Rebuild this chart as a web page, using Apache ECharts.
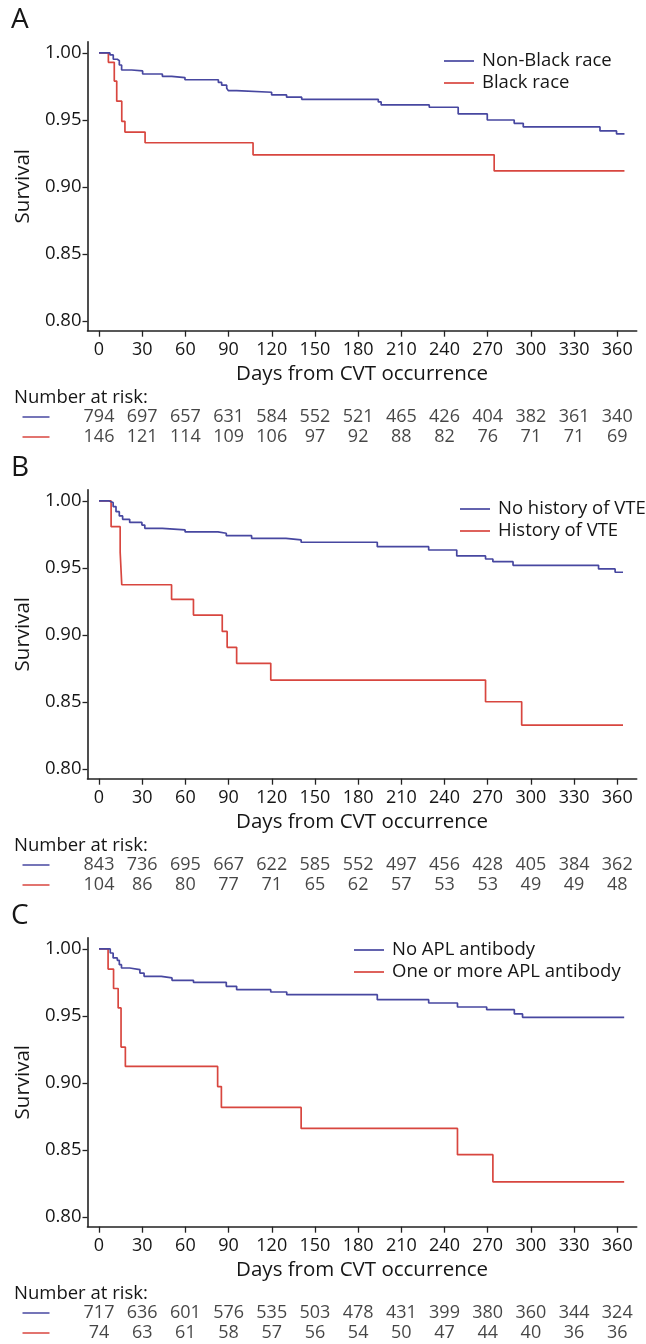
<!DOCTYPE html>
<html>
<head>
<meta charset="utf-8">
<script src="https://cdn.jsdelivr.net/npm/echarts@6/dist/echarts.min.js"></script>
<style>
html,body{margin:0;padding:0;background:#fff;}
#chart{width:646px;height:1344px;}
</style>
</head>
<body>
<div id="chart"></div>
<script>
// ---------- data ----------
const xTicks = [0, 30, 60, 90, 120, 150, 180, 210, 240, 270, 300, 330, 360];
const yTicks = [0.80, 0.85, 0.90, 0.95, 1.00];
const panelLetters = ['A', 'B', 'C'];
const xAxisTitle = 'Days from CVT occurrence';
const yAxisTitle = 'Survival';
const riskTitle = 'Number at risk:';

// Panel A
const namesA = ['Non-Black race', 'Black race'];
const daysA1 = [0, 7.6, 9.9, 12.7, 14.1, 15.7, 22.7, 30.3, 44, 50.5, 59.7, 82.9, 85.2, 88.7, 89.8, 95.6, 119.9, 130.3, 140.8, 194, 196, 229.4, 249.5, 269.7, 288.4, 294.7, 348, 359.5, 365];
const survA1 = [1, 0.9985, 0.9953, 0.9943, 0.991, 0.9873, 0.9866, 0.9843, 0.9826, 0.9816, 0.980, 0.978, 0.976, 0.9736, 0.9719, 0.9707, 0.9687, 0.967, 0.9654, 0.9635, 0.9612, 0.9595, 0.9545, 0.950, 0.9475, 0.9448, 0.9418, 0.9396, 0.9396];
const daysA2 = [0, 6.5, 10.6, 12.3, 15.8, 18, 32, 107, 274.5, 365];
const survA2 = [1, 0.993, 0.979, 0.964, 0.949, 0.941, 0.933, 0.924, 0.912, 0.912];
const riskA1 = [794, 697, 657, 631, 584, 552, 521, 465, 426, 404, 382, 361, 340];
const riskA2 = [146, 121, 114, 109, 106, 97, 92, 88, 82, 76, 71, 71, 69];

// Panel B
const namesB = ['No history of VTE', 'History of VTE'];
const daysB1 = [0, 7, 9.8, 11.8, 14.1, 16.4, 21.3, 29.8, 31.8, 44, 59.8, 82.6, 88.4, 106, 129.9, 140.4, 193.3, 229, 248.5, 268.5, 273.6, 287.6, 347, 358.5, 364];
const survB1 = [1, 0.9988, 0.9958, 0.992, 0.9888, 0.9863, 0.984, 0.982, 0.9796, 0.9784, 0.9769, 0.9759, 0.9741, 0.9721, 0.9709, 0.9692, 0.9659, 0.9634, 0.959, 0.9567, 0.9547, 0.952, 0.9493, 0.9468, 0.9468];
const daysB2 = [0, 8.4, 14.7, 15.8, 50.4, 65.6, 85.6, 89, 95.6, 119.3, 268.5, 293.6, 364];
const survB2 = [1, 0.9808, 0.9615, 0.9375, 0.9266, 0.9149, 0.9027, 0.8908, 0.8789, 0.8664, 0.8502, 0.8328, 0.8328];
const riskB1 = [843, 736, 695, 667, 622, 585, 552, 497, 456, 428, 405, 384, 362];
const riskB2 = [104, 86, 80, 77, 71, 65, 62, 57, 53, 53, 49, 49, 48];

// Panel C
const namesC = ['No APL antibody', 'One or more APL antibody'];
const daysC1 = [0, 7.8, 9.8, 12.7, 14.1, 15.6, 21.3, 28.4, 31.3, 43.3, 50.7, 65.6, 88.4, 95.6, 119.3, 130.4, 193.3, 229, 249, 269.3, 288.5, 294.2, 364.8];
const survC1 = [1, 0.997, 0.9933, 0.9915, 0.9883, 0.9858, 0.9846, 0.982, 0.9796, 0.9784, 0.9766, 0.9751, 0.9721, 0.9696, 0.9679, 0.9659, 0.9622, 0.9597, 0.9567, 0.9547, 0.9515, 0.949, 0.949];
const daysC2 = [0, 6.3, 10.1, 13.3, 15.3, 18.3, 82.4, 85, 140.4, 249, 273.6, 364.8];
const survC2 = [1, 0.985, 0.9705, 0.956, 0.9268, 0.9124, 0.8973, 0.8818, 0.8661, 0.8465, 0.8263, 0.8263];
const riskC1 = [717, 636, 601, 576, 535, 503, 478, 431, 399, 380, 360, 344, 324];
const riskC2 = [74, 63, 61, 58, 57, 56, 54, 50, 47, 44, 40, 36, 36];

// ---------- layout / style ----------
const BLUE = '#4747a0';
const RED = '#d8463f';
const TXT = '#161616';
const FONT = 'Open Sans';
const panels = [
  {names: namesA, d1: daysA1, s1: survA1, d2: daysA2, s2: survA2, r1: riskA1, r2: riskA2, legendLeft: 444, legendTop: 50},
  {names: namesB, d1: daysB1, s1: survB1, d2: daysB2, s2: survB2, r1: riskB1, r2: riskB2, legendLeft: 460, legendTop: 498},
  {names: namesC, d1: daysC1, s1: survC1, d2: daysC2, s2: survC2, r1: riskC1, r2: riskC2, legendLeft: 354, legendTop: 939}
];
const STEP = 448;
const GRID_LEFT = 87.5, GRID_RIGHT = 9.3, GRID_TOP = 41.7, GRID_H = 289;
const XMIN = -8, XMAX = 373.5, YMIN = 0.7928, YMAX = 1.0084;

const option = {
  animation: false,
  backgroundColor: '#fff',
  textStyle: {fontFamily: FONT},
  title: [], legend: [], grid: [], xAxis: [], yAxis: [], series: []
};

panels.forEach((p, i) => {
  const off = i * STEP;
  // panel letter
  option.title.push({text: panelLetters[i], left: 11, top: 5 + off,
    textStyle: {fontFamily: FONT, fontSize: 28, fontWeight: 'normal', color: TXT, lineHeight: 30}, padding: 0});
  option.title.push({text: riskTitle, left: 14, top: 387 + off,
    textStyle: {fontFamily: FONT, fontSize: 18.5, fontWeight: 'normal', color: TXT, lineHeight: 22}, padding: 0});

  // main grid
  const g = option.grid.length;
  option.grid.push({left: GRID_LEFT, right: GRID_RIGHT, top: GRID_TOP + off, height: GRID_H, containLabel: false});
  option.xAxis.push({
    type: 'value', gridIndex: g, min: XMIN, max: XMAX,
    axisLine: {show: true, onZero: false, lineStyle: {color: '#222', width: 1.6}},
    axisTick: {show: true, length: 6, customValues: xTicks, lineStyle: {color: '#222', width: 1.3}},
    axisLabel: {customValues: xTicks, margin: 10, fontSize: 18, color: TXT, fontFamily: FONT},
    splitLine: {show: false},
    name: xAxisTitle, nameLocation: 'middle', nameGap: 33,
    nameTextStyle: {fontSize: 20.5, color: TXT, fontFamily: FONT}
  });
  option.yAxis.push({
    type: 'value', gridIndex: g, min: YMIN, max: YMAX,
    axisLine: {show: true, onZero: false, lineStyle: {color: '#222', width: 1.6}},
    axisTick: {show: true, length: 5, customValues: yTicks, lineStyle: {color: '#222', width: 1.3}},
    axisLabel: {customValues: yTicks, margin: 6, fontSize: 18.5, color: TXT, fontFamily: FONT,
      formatter: v => v.toFixed(2)},
    splitLine: {show: false},
    name: yAxisTitle, nameLocation: 'middle', nameGap: 53,
    nameTextStyle: {fontSize: 20.5, color: TXT, fontFamily: FONT}
  });
  const mkData = (d, s) => d.map((x, k) => [x, s[k]]);
  option.series.push({
    name: p.names[0], type: 'line', step: 'end', xAxisIndex: g, yAxisIndex: g,
    data: mkData(p.d1, p.s1), showSymbol: false, symbol: 'none',
    lineStyle: {color: BLUE, width: 1.7}, itemStyle: {color: BLUE}, z: 3
  });
  option.series.push({
    name: p.names[1], type: 'line', step: 'end', xAxisIndex: g, yAxisIndex: g,
    data: mkData(p.d2, p.s2), showSymbol: false, symbol: 'none',
    lineStyle: {color: RED, width: 1.7}, itemStyle: {color: RED}, z: 2
  });
  option.legend.push({
    data: p.names, orient: 'vertical', left: p.legendLeft, top: p.legendTop,
    padding: 0, itemGap: 0, itemWidth: 30, itemHeight: 1.7, icon: 'rect',
    selectedMode: false,
    textStyle: {fontFamily: FONT, fontSize: 18.5, color: TXT, lineHeight: 22, padding: [0, 0, 0, 3]}
  });

  // number at risk grid
  const rg = option.grid.length;
  option.grid.push({left: GRID_LEFT, right: GRID_RIGHT, top: 407 + off, height: 40});
  option.xAxis.push({type: 'value', gridIndex: rg, min: XMIN, max: XMAX, show: false});
  option.yAxis.push({
    type: 'category', gridIndex: rg, data: ['b', 'r'], inverse: true,
    axisLine: {show: false}, axisTick: {show: false}, splitLine: {show: false},
    axisLabel: {margin: 38, formatter: v => '{' + v + '|}',
      rich: {b: {width: 27, height: 1.5, backgroundColor: BLUE}, r: {width: 27, height: 1.5, backgroundColor: RED}}}
  });
  const mkRisk = (arr, row) => xTicks.map((x, k) => [x, row, arr[k]]);
  const riskLabel = {show: true, position: 'inside', formatter: q => String(q.value[2]),
    fontSize: 18, color: TXT, fontFamily: FONT};
  option.series.push({
    name: 'risk-' + i + '-1', type: 'scatter', xAxisIndex: rg, yAxisIndex: rg,
    data: mkRisk(p.r1, 'b'), symbolSize: 1, itemStyle: {color: 'transparent'}, label: riskLabel, silent: true
  });
  option.series.push({
    name: 'risk-' + i + '-2', type: 'scatter', xAxisIndex: rg, yAxisIndex: rg,
    data: mkRisk(p.r2, 'r'), symbolSize: 1, itemStyle: {color: 'transparent'}, label: riskLabel, silent: true
  });
});

const chart = echarts.init(document.getElementById('chart'), null, {renderer: 'canvas'});
chart.setOption(option);
</script>
</body>
</html>
